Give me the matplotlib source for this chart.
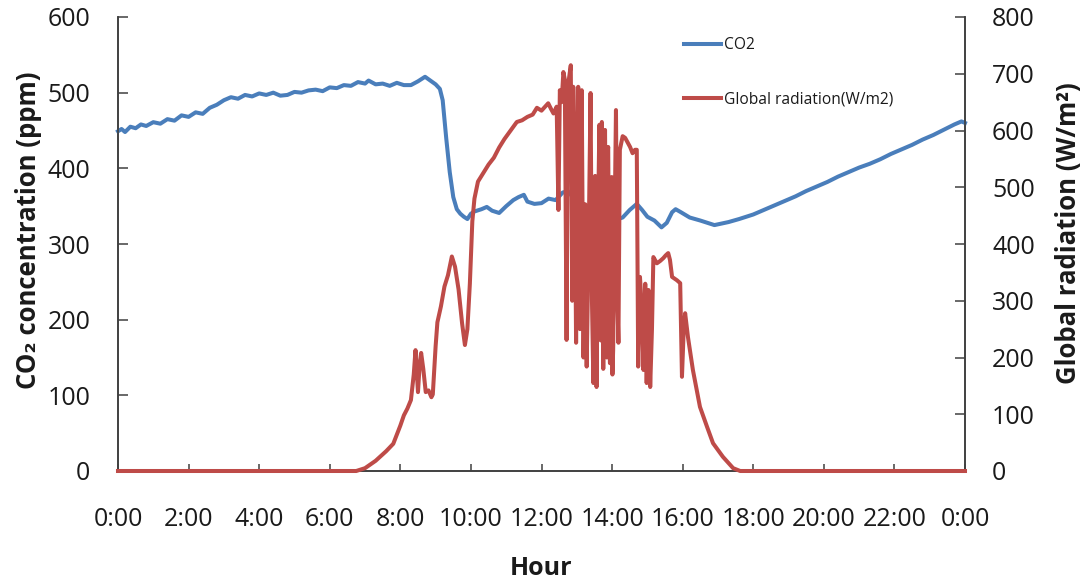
import matplotlib
matplotlib.use("Agg")
import matplotlib.pyplot as plt

plt.rcParams["font.family"] = ["Open Sans", "DejaVu Sans"]

# CO2 concentration (ppm) over one day, hours since midnight
co2_hours = [0.0, 0.1, 0.2, 0.35, 0.5, 0.65, 0.8, 1.0, 1.2, 1.4, 1.6, 1.8, 2.0, 2.2,
             2.4, 2.6, 2.8, 3.0, 3.2, 3.4, 3.6, 3.8, 4.0, 4.2, 4.4, 4.6, 4.8, 5.0,
             5.2, 5.4, 5.6, 5.8, 6.0, 6.2, 6.4, 6.6, 6.8, 7.0, 7.1, 7.3, 7.5, 7.7,
             7.9, 8.1, 8.3, 8.5, 8.7, 8.85, 9.0, 9.12, 9.2, 9.3, 9.4, 9.5, 9.6,
             9.7, 9.8, 9.9, 10.0, 10.1, 10.3, 10.45, 10.6, 10.8, 11.0, 11.2, 11.35,
             11.5, 11.6, 11.8, 12.0, 12.2, 12.4, 12.6, 12.75, 12.9, 13.1, 13.3,
             13.5, 13.7, 13.9, 14.1, 14.3, 14.5, 14.7, 14.85, 15.0, 15.2, 15.4,
             15.55, 15.7, 15.8, 15.95, 16.2, 16.5, 16.7, 16.9, 17.1, 17.3, 17.6,
             17.8, 18.0, 18.3, 18.6, 18.9, 19.2, 19.5, 19.8, 20.1, 20.4, 20.7,
             21.0, 21.3, 21.6, 21.9, 22.2, 22.5, 22.8, 23.1, 23.4, 23.7, 23.9, 24.0]
co2_ppm = [449, 452, 448, 455, 453, 458, 456, 461, 459, 465, 463, 470, 468, 474,
           472, 480, 484, 490, 494, 492, 497, 495, 499, 497, 500, 496, 497, 501,
           500, 503, 504, 502, 507, 506, 510, 509, 514, 512, 516, 511, 512, 509,
           513, 510, 510, 515, 521, 516, 511, 505, 490, 440, 395, 362, 346,
           340, 336, 333, 340, 343, 346, 349, 344, 341, 350, 358, 362,
           365, 356, 353, 354, 360, 358, 368, 370, 361, 352, 345,
           336, 334, 337, 332, 335, 345, 353, 345, 336, 331, 322,
           328, 342, 346, 342, 335, 331, 328, 325, 327, 329, 333,
           336, 339, 345, 351, 357, 363, 370, 376, 382, 389, 395,
           401, 406, 412, 419, 425, 431, 438, 444, 451, 458, 462, 460]

# Global radiation (W/m2) over the same day
rad_hours = [0.0, 6.75, 7.0, 7.3, 7.6, 7.8, 8.0, 8.1, 8.2, 8.3, 8.38, 8.43, 8.47,
             8.5, 8.55, 8.59, 8.65, 8.72, 8.8, 8.88, 8.92, 9.0, 9.05, 9.15, 9.25,
             9.35, 9.46, 9.55, 9.65, 9.75, 9.83, 9.9, 9.97, 10.04, 10.1, 10.2,
             10.35, 10.5, 10.65, 10.8, 10.95, 11.1, 11.3, 11.45, 11.6, 11.75,
             11.87, 12.0, 12.19, 12.27, 12.34, 12.43, 12.48, 12.52, 12.57, 12.62,
             12.66, 12.71, 12.74, 12.76, 12.83, 12.87, 12.9, 12.94, 12.98, 13.04,
             13.09, 13.14, 13.19, 13.24, 13.28, 13.34, 13.39, 13.43, 13.47, 13.52,
             13.56, 13.6, 13.64, 13.68, 13.71, 13.75, 13.8, 13.83, 13.85, 13.87,
             13.89, 13.92, 13.94, 13.97, 13.99, 14.01, 14.03, 14.07, 14.11, 14.15,
             14.18, 14.22, 14.3, 14.37, 14.45, 14.51, 14.58, 14.65, 14.7, 14.74,
             14.79, 14.84, 14.89, 14.94, 14.98, 15.03, 15.08, 15.13, 15.17, 15.27,
             15.36, 15.45, 15.52, 15.59, 15.64, 15.7, 15.84, 15.93, 15.98, 16.03,
             16.07, 16.15, 16.29, 16.49, 16.69, 16.86, 17.14, 17.43, 17.63, 24.0]
rad_wm2 = [0, 0, 5, 18, 35, 48, 80, 98, 110, 125, 170, 213, 170,
           139, 190, 208, 180, 139, 142, 130, 135, 220, 262, 290, 325,
           345, 378, 360, 320, 260, 222, 250, 330, 440, 480, 510,
           525, 540, 552, 570, 585, 598, 615, 618, 624, 628,
           640, 635, 648, 638, 630, 642, 460, 671, 650, 703,
           690, 231, 560, 683, 715, 300, 677, 560, 226, 677,
           250, 671, 200, 470, 184, 420, 666, 300, 155, 520,
           148, 430, 610, 230, 615, 180, 601, 350, 200, 560,
           571, 260, 190, 480, 518, 170, 213, 420, 636, 300,
           226, 566, 590, 587, 578, 571, 560, 566, 566, 184,
           342, 290, 178, 330, 155, 319, 148, 250, 377, 366,
           370, 375, 380, 384, 372, 342, 336, 331, 166, 250,
           278, 236, 178, 113, 78, 49, 25, 5, 0, 0]

hour_ticks = list(range(0, 25, 2))
hour_labels = [f"{h % 24}:00" for h in hour_ticks]
co2_ticks = list(range(0, 601, 100))
rad_ticks = list(range(0, 801, 100))

blue = "#4a7ebb"
red = "#be4b48"
spine_col = "#404040"
text_col = "#1a1a1a"

fig = plt.figure(figsize=(10.82, 5.80), dpi=100)
ax1 = fig.add_axes([118 / 1082, 1 - 471 / 580, 847 / 1082, 454 / 580])
ax2 = ax1.twinx()

co2_line, = ax1.plot(co2_hours, co2_ppm, color=blue, lw=2.9, label="CO2",
                     solid_joinstyle="round", clip_on=False, zorder=3)
rad_line, = ax2.plot(rad_hours, rad_wm2, color=red, lw=2.9,
                     label="Global radiation(W/m2)", solid_joinstyle="round",
                     clip_on=False, zorder=3)

ax1.set_xlim(0, 24)
ax1.set_ylim(0, 600)
ax2.set_ylim(0, 800)
ax1.set_xticks(hour_ticks)
ax1.set_xticklabels(hour_labels)
ax1.set_yticks(co2_ticks)
ax2.set_yticks(rad_ticks)

for ax in (ax1, ax2):
    ax.spines["top"].set_visible(False)
    for s in ("left", "right", "bottom"):
        ax.spines[s].set_color(spine_col)
        ax.spines[s].set_linewidth(1.2)
    ax.tick_params(direction="in", length=7, width=1.1, color=spine_col,
                   labelsize=18, labelcolor=text_col)
ax1.tick_params(axis="y", pad=20)
ax1.tick_params(axis="x", pad=26, length=5)
ax2.tick_params(axis="y", pad=19.5)

ax1.set_ylabel("CO\u2082 concentration (ppm)", fontsize=18.5, fontweight="bold",
               color=text_col)
ax1.yaxis.set_label_coords(-0.09, 0.53)
ax2.set_ylabel("Global radiation (W/m\u00b2)", fontsize=18.5, fontweight="bold",
               color=text_col)
ax2.yaxis.set_label_coords(1.106, 0.525)
ax1.set_xlabel("Hour", fontsize=18, fontweight="bold", color=text_col,
               labelpad=17)

fig.legend(handles=[co2_line, rad_line], loc="upper left",
           bbox_to_anchor=(684 / 1082, 1 - 37 / 580), frameon=False,
           fontsize=11.2, handlelength=2.4, handletextpad=0.15,
           labelspacing=2.5, borderpad=0, borderaxespad=0,
           labelcolor=text_col)

fig.savefig("out.png", dpi=100, facecolor="white")
